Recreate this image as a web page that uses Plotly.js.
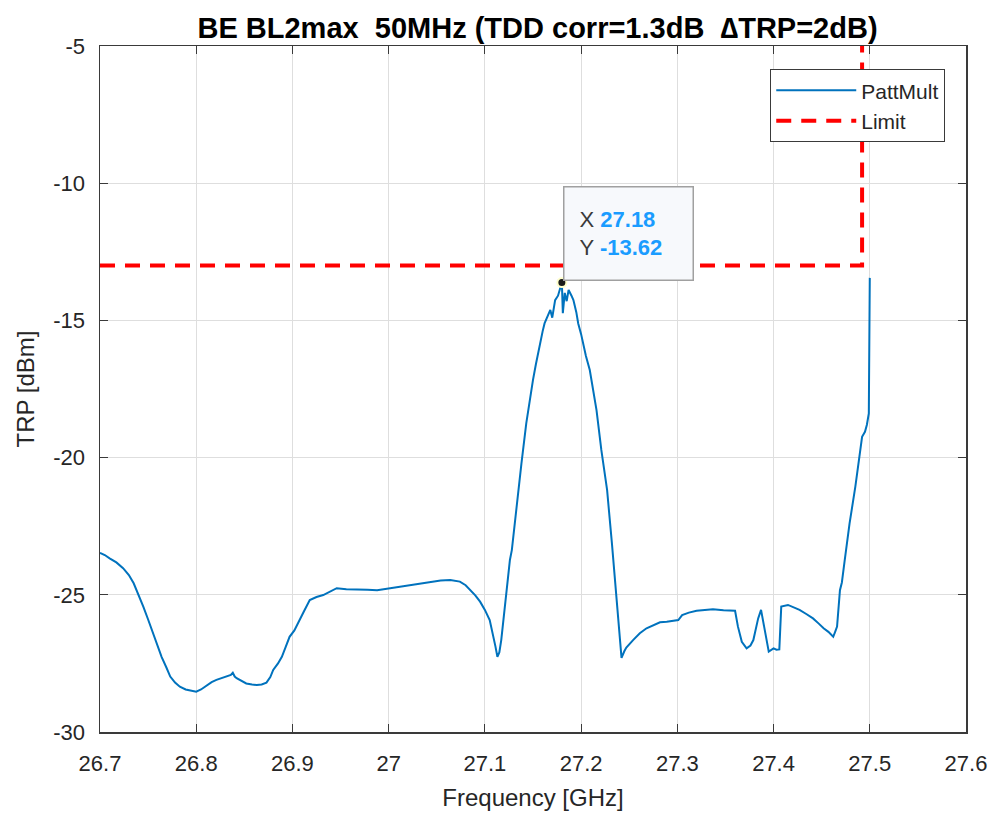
<!DOCTYPE html>
<html>
<head>
<meta charset="utf-8">
<script src="https://cdn.plot.ly/plotly-3.0.1.min.js"></script>
<style>
  html, body { margin: 0; padding: 0; background: #ffffff; }
  #chart { width: 1001px; height: 822px; }
</style>
</head>
<body>
<div id="chart"></div>
<script>
// Measured total radiated power versus frequency (PattMult)
const freqGHz = [
  26.700, 26.705, 26.710, 26.717, 26.724, 26.730, 26.735, 26.740, 26.745, 26.750,
  26.755, 26.760, 26.764, 26.769, 26.773, 26.778, 26.783, 26.789, 26.794, 26.800,
  26.805, 26.811, 26.816, 26.821, 26.827, 26.832, 26.836, 26.838, 26.840, 26.842,
  26.847, 26.852, 26.858, 26.863, 26.868, 26.873, 26.877, 26.880, 26.885, 26.889,
  26.893, 26.897, 26.902, 26.906, 26.912, 26.918, 26.925, 26.932, 26.939, 26.946,
  26.956, 26.967, 26.978, 26.988, 27.001, 27.011, 27.022, 27.032, 27.043, 27.054,
  27.064, 27.070, 27.074, 27.080, 27.085, 27.090, 27.095, 27.100, 27.105, 27.108,
  27.111, 27.113, 27.115, 27.117, 27.121, 27.126, 27.128, 27.133, 27.138, 27.143,
  27.146, 27.150, 27.153, 27.157, 27.160, 27.162, 27.165, 27.168, 27.170, 27.173,
  27.176, 27.178, 27.180, 27.181, 27.183, 27.185, 27.187, 27.190, 27.192, 27.195,
  27.197, 27.200, 27.202, 27.205, 27.209, 27.212, 27.216, 27.221, 27.227, 27.232,
  27.237, 27.240, 27.242, 27.245, 27.247, 27.254, 27.261, 27.268, 27.275, 27.282,
  27.289, 27.295, 27.301, 27.305, 27.312, 27.320, 27.328, 27.337, 27.348, 27.360,
  27.363, 27.367, 27.372, 27.376, 27.379, 27.384, 27.387, 27.391, 27.395, 27.400,
  27.403, 27.406, 27.408, 27.415, 27.421, 27.427, 27.434, 27.441, 27.447, 27.452,
  27.457, 27.462, 27.464, 27.466, 27.469, 27.471, 27.474, 27.479, 27.485, 27.489,
  27.492, 27.495, 27.497, 27.499, 27.500
];
const trpDbm = [
  -23.47, -23.55, -23.67, -23.82, -24.03, -24.28, -24.58, -24.98, -25.43, -25.90,
  -26.40, -26.85, -27.26, -27.65, -27.98, -28.20, -28.35, -28.45, -28.49, -28.53,
  -28.45, -28.29, -28.18, -28.10, -28.02, -27.96, -27.92, -27.84, -27.98, -28.04,
  -28.15, -28.23, -28.27, -28.29, -28.27, -28.20, -28.00, -27.74, -27.50, -27.26,
  -26.90, -26.53, -26.30, -26.04, -25.60, -25.19, -25.08, -25.01, -24.88, -24.76,
  -24.80, -24.80, -24.82, -24.83, -24.76, -24.70, -24.64, -24.58, -24.52, -24.48,
  -24.46, -24.48, -24.52, -24.65, -24.83, -25.02, -25.25, -25.55, -25.92, -26.35,
  -26.89, -27.26, -27.10, -26.65, -25.31, -23.73, -23.37, -21.67, -20.21, -18.75,
  -18.00, -17.17, -16.60, -15.83, -15.40, -15.11, -14.85, -14.62, -14.90, -14.26,
  -14.10, -13.83, -13.62, -14.74, -14.00, -14.30, -13.89, -14.10, -14.26, -14.70,
  -15.11, -15.50, -15.83, -16.30, -16.81, -17.50, -18.27, -19.72, -21.18, -23.12,
  -25.19, -26.70, -27.30, -27.05, -26.92, -26.65, -26.40, -26.22, -26.10, -26.00,
  -25.98, -25.95, -25.92, -25.74, -25.65, -25.58, -25.55, -25.53, -25.56, -25.58,
  -26.16, -26.71, -26.95, -26.85, -26.65, -25.86, -25.55, -26.28, -27.07, -26.95,
  -27.00, -26.99, -25.43, -25.37, -25.45, -25.55, -25.70, -25.86, -26.05, -26.22,
  -26.35, -26.53, -26.35, -26.16, -24.83, -24.55, -23.73, -22.40, -21.06, -19.97,
  -19.24, -19.06, -18.80, -18.39, -13.45
];

// Emission limit mask
const limitFreqGHz = [26.7, 27.492, 27.492];
const limitDbm = [-13, -13, -5];

// Data tip on the peak
const tipFreq = [27.18];
const tipTrp = [-13.62];

// Axis ticks
const xTickVals = [26.7, 26.8, 26.9, 27.0, 27.1, 27.2, 27.3, 27.4, 27.5, 27.6];
const xTickText = ['26.7', '26.8', '26.9', '27', '27.1', '27.2', '27.3', '27.4', '27.5', '27.6'];
const yTickVals = [-30, -25, -20, -15, -10, -5];
const yTickText = ['-30', '-25', '-20', '-15', '-10', '-5'];

const FONT = 'Liberation Sans, Arial, Helvetica, sans-serif';
const INK = '#262626';

const traces = [
  {
    x: freqGHz, y: trpDbm, name: 'PattMult', type: 'scatter', mode: 'lines',
    line: { color: '#0072BD', width: 2 }
  },
  {
    x: limitFreqGHz, y: limitDbm, name: 'Limit', type: 'scatter', mode: 'lines',
    line: { color: '#FF0000', width: 4, dash: '15px,10px' }
  },
  {
    x: tipFreq, y: tipTrp, type: 'scatter', mode: 'markers', showlegend: false,
    marker: { color: '#1a1a1a', size: 9, line: { color: '#ffffcc', width: 2 } },
    hoverinfo: 'skip'
  }
];

const axisCommon = {
  showline: true, mirror: 'ticks', linecolor: '#3a3a3a', linewidth: 1.5,
  ticks: 'inside', ticklen: 8, tickcolor: '#3a3a3a', tickwidth: 1,
  showgrid: true, gridcolor: '#dedede', gridwidth: 1, zeroline: false,
  tickfont: { family: FONT, size: 22, color: INK }
};

const layout = {
  width: 1001, height: 822,
  paper_bgcolor: '#ffffff', plot_bgcolor: '#ffffff',
  margin: { l: 100, r: 35, t: 46, b: 90 },
  title: {
    text: '<b>BE BL2max&nbsp; 50MHz (TDD corr=1.3dB&nbsp; \u2206TRP=2dB)</b>',
    font: { family: FONT, size: 29, color: '#000000' },
    x: 0.537, xanchor: 'center', y: 0.966, yanchor: 'middle', xref: 'container', yref: 'container'
  },
  xaxis: Object.assign({}, axisCommon, {
    range: [26.7, 27.6], tickvals: xTickVals, ticktext: xTickText,
    ticklabelstandoff: 11,
    title: { text: 'Frequency [GHz]', font: { family: FONT, size: 24, color: INK }, standoff: 14 }
  }),
  yaxis: Object.assign({}, axisCommon, {
    range: [-30, -5], tickvals: yTickVals, ticktext: yTickText,
    ticklabelstandoff: 9,
    title: { text: 'TRP [dBm]', font: { family: FONT, size: 24, color: INK }, standoff: 12 }
  }),
  legend: {
    x: 0.9758, xanchor: 'right', y: 0.9665, yanchor: 'top',
    bgcolor: '#ffffff', bordercolor: '#3a3a3a', borderwidth: 1.2,
    font: { family: FONT, size: 21, color: INK },
    itemwidth: 80, tracegroupgap: 0
  },
  annotations: [
    {
      x: tipFreq[0], y: tipTrp[0], xref: 'x', yref: 'y',
      xanchor: 'left', yanchor: 'bottom', xshift: 1, yshift: 2,
      showarrow: false, align: 'left', valign: 'middle',
      width: 98, height: 62, borderpad: 15,
      bgcolor: '#f7f9fc', bordercolor: '#a0a0a0', borderwidth: 1.5,
      font: { family: FONT, size: 22, color: '#3a3a3a' },
      text: 'X <b><span style="color:#1a9cff">' + tipFreq[0].toFixed(2) + '</span></b><br>' +
            'Y <b><span style="color:#1a9cff">' + tipTrp[0].toFixed(2) + '</span></b>'
    }
  ],
  showlegend: true
};

Plotly.newPlot('chart', traces, layout, { displayModeBar: false, staticPlot: true });
</script>
</body>
</html>
